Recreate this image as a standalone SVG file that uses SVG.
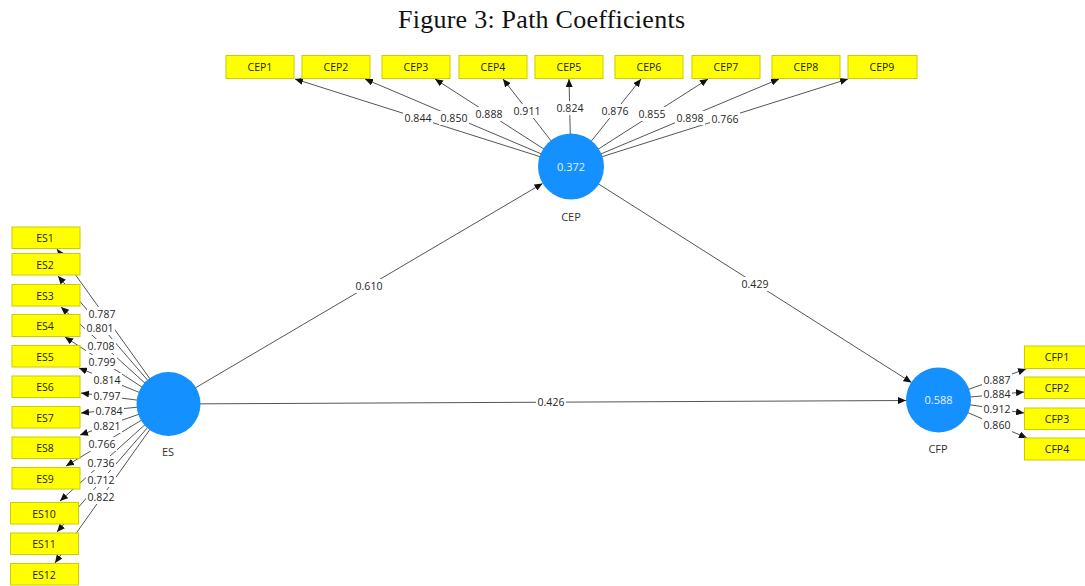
<svg xmlns="http://www.w3.org/2000/svg" width="1085" height="586" viewBox="0 0 1085 586">
<style>
.bg{fill:#fff}
.ln{stroke:#555;stroke-width:1;fill:none;marker-end:url(#ah)}
.lb{fill:#fff}
.lt{font-family:"Open Sans","Noto Sans",sans-serif;font-size:10.5px;fill:#262626;text-anchor:middle;dominant-baseline:central}
.box{fill:#ffff00;stroke:#cccc00;stroke-width:1}
.bt{font-family:"Open Sans","Noto Sans",sans-serif;font-size:10.5px;fill:#222;text-anchor:middle;dominant-baseline:central}
.cir{fill:#1490ff}
.ct{font-family:"Open Sans","Noto Sans",sans-serif;font-size:11px;fill:#e6f0ff;text-anchor:middle;dominant-baseline:central}
.cn{font-family:"Open Sans","Noto Sans",sans-serif;font-size:11px;fill:#333;text-anchor:middle;dominant-baseline:central}
</style>
<defs>
<marker id="ah" markerUnits="userSpaceOnUse" markerWidth="9" markerHeight="7" refX="8" refY="3.5" orient="auto">
<path d="M0,0 L8,3.5 L0,7 z" fill="#111"/>
</marker>
</defs>
<rect class="bg" x="0" y="0" width="1085" height="586"/>
<text x="398" y="28" font-family="'Liberation Serif', serif" font-size="26" textLength="287" lengthAdjust="spacing" fill="#111">Figure 3: Path Coefficients</text>

<g id="connectors">
<!-- CEP indicators -->
<line class="ln" x1="571" y1="166.5" x2="295" y2="79"/>
<line class="ln" x1="571" y1="166.5" x2="365" y2="79"/>
<line class="ln" x1="571" y1="166.5" x2="435" y2="79"/>
<line class="ln" x1="571" y1="166.5" x2="503" y2="79"/>
<line class="ln" x1="571" y1="166.5" x2="569" y2="79"/>
<line class="ln" x1="571" y1="166.5" x2="641" y2="79"/>
<line class="ln" x1="571" y1="166.5" x2="708" y2="79"/>
<line class="ln" x1="571" y1="166.5" x2="779" y2="79"/>
<line class="ln" x1="571" y1="166.5" x2="848" y2="79"/>
<!-- ES indicators -->
<line class="ln" x1="168" y1="404" x2="57" y2="249"/>
<line class="ln" x1="168" y1="404" x2="58" y2="276"/>
<line class="ln" x1="168" y1="404" x2="61" y2="307"/>
<line class="ln" x1="168" y1="404" x2="65" y2="337"/>
<line class="ln" x1="168" y1="404" x2="79" y2="368"/>
<line class="ln" x1="168" y1="404" x2="81" y2="393"/>
<line class="ln" x1="168" y1="404" x2="81" y2="413"/>
<line class="ln" x1="168" y1="404" x2="80" y2="435"/>
<line class="ln" x1="168" y1="404" x2="66" y2="466"/>
<line class="ln" x1="168" y1="404" x2="60" y2="501"/>
<line class="ln" x1="168" y1="404" x2="57" y2="532"/>
<line class="ln" x1="168" y1="404" x2="55" y2="563"/>
<!-- CFP indicators -->
<line class="ln" x1="938.5" y1="400" x2="1026" y2="369"/>
<line class="ln" x1="938.5" y1="400" x2="1024" y2="392"/>
<line class="ln" x1="938.5" y1="400" x2="1024" y2="413"/>
<line class="ln" x1="938.5" y1="400" x2="1027" y2="438"/>
<!-- structural paths -->
<line class="ln" x1="168" y1="404" x2="542.5" y2="183.5"/>
<line class="ln" x1="571" y1="166.5" x2="911.5" y2="382.5"/>
<line class="ln" x1="168" y1="404" x2="906" y2="400.5"/>

<!-- labels -->
<g>
<rect class="lb" x="403" y="111" width="30" height="14"/><text class="lt" x="418" y="118">0.844</text>
<rect class="lb" x="439" y="111" width="30" height="14"/><text class="lt" x="454" y="118">0.850</text>
<rect class="lb" x="474" y="107" width="30" height="14"/><text class="lt" x="489" y="114">0.888</text>
<rect class="lb" x="512" y="104" width="30" height="14"/><text class="lt" x="527" y="111">0.911</text>
<rect class="lb" x="555" y="101" width="30" height="14"/><text class="lt" x="570" y="108">0.824</text>
<rect class="lb" x="600" y="104" width="30" height="14"/><text class="lt" x="615" y="111">0.876</text>
<rect class="lb" x="637" y="107" width="30" height="14"/><text class="lt" x="652" y="114">0.855</text>
<rect class="lb" x="675" y="111" width="30" height="14"/><text class="lt" x="690" y="118">0.898</text>
<rect class="lb" x="710" y="112" width="30" height="14"/><text class="lt" x="725" y="119">0.766</text>

<rect class="lb" x="87" y="307" width="30" height="14"/><text class="lt" x="102" y="314">0.787</text>
<rect class="lb" x="85" y="321" width="30" height="14"/><text class="lt" x="100" y="328">0.801</text>
<rect class="lb" x="86" y="339" width="30" height="14"/><text class="lt" x="101" y="346">0.708</text>
<rect class="lb" x="87" y="355" width="30" height="14"/><text class="lt" x="102" y="362">0.799</text>
<rect class="lb" x="92" y="373" width="30" height="14"/><text class="lt" x="107" y="380">0.814</text>
<rect class="lb" x="92" y="389" width="30" height="14"/><text class="lt" x="107" y="396">0.797</text>
<rect class="lb" x="94" y="404" width="30" height="14"/><text class="lt" x="109" y="411">0.784</text>
<rect class="lb" x="92" y="419" width="30" height="14"/><text class="lt" x="107" y="426">0.821</text>
<rect class="lb" x="87" y="437" width="30" height="14"/><text class="lt" x="102" y="444">0.766</text>
<rect class="lb" x="86" y="456" width="30" height="14"/><text class="lt" x="101" y="463">0.736</text>
<rect class="lb" x="86" y="473" width="30" height="14"/><text class="lt" x="101" y="480">0.712</text>
<rect class="lb" x="86" y="490" width="30" height="14"/><text class="lt" x="101" y="497">0.822</text>

<rect class="lb" x="982" y="373" width="30" height="14"/><text class="lt" x="997" y="380">0.887</text>
<rect class="lb" x="982" y="387" width="30" height="14"/><text class="lt" x="997" y="394">0.884</text>
<rect class="lb" x="982" y="402" width="30" height="14"/><text class="lt" x="997" y="409">0.912</text>
<rect class="lb" x="982" y="418" width="30" height="14"/><text class="lt" x="997" y="425">0.860</text>

<rect class="lb" x="354" y="279" width="30" height="14"/><text class="lt" x="369" y="286">0.610</text>
<rect class="lb" x="740" y="277" width="30" height="14"/><text class="lt" x="755" y="284">0.429</text>
<rect class="lb" x="536" y="395" width="30" height="14"/><text class="lt" x="551" y="402">0.426</text>
</g>
</g>

<g id="CEP"><circle class="cir" cx="571" cy="166.5" r="33"/><text class="ct" x="571" y="166">0.372</text><text class="cn" x="571" y="216">CEP</text></g>
<g id="ES"><circle class="cir" cx="168.5" cy="404" r="32"/><text class="cn" x="168" y="451">ES</text></g>
<g id="CFP"><circle class="cir" cx="938.5" cy="400" r="32.5"/><text class="ct" x="938.5" y="399">0.588</text><text class="cn" x="938" y="448">CFP</text></g>

<g id="CEP1"><rect class="box" x="226" y="55.5" width="68" height="23"/><text class="bt" x="260" y="67">CEP1</text></g>
<g id="CEP2"><rect class="box" x="302" y="55.5" width="68" height="23"/><text class="bt" x="336" y="67">CEP2</text></g>
<g id="CEP3"><rect class="box" x="382" y="55.5" width="68" height="23"/><text class="bt" x="416" y="67">CEP3</text></g>
<g id="CEP4"><rect class="box" x="459" y="55.5" width="68" height="23"/><text class="bt" x="493" y="67">CEP4</text></g>
<g id="CEP5"><rect class="box" x="535" y="55.5" width="68" height="23"/><text class="bt" x="569" y="67">CEP5</text></g>
<g id="CEP6"><rect class="box" x="615" y="55.5" width="68" height="23"/><text class="bt" x="649" y="67">CEP6</text></g>
<g id="CEP7"><rect class="box" x="692" y="55.5" width="68" height="23"/><text class="bt" x="726" y="67">CEP7</text></g>
<g id="CEP8"><rect class="box" x="772" y="55.5" width="68" height="23"/><text class="bt" x="806" y="67">CEP8</text></g>
<g id="CEP9"><rect class="box" x="848" y="55.5" width="69" height="23"/><text class="bt" x="882" y="67">CEP9</text></g>

<g id="ES1"><rect class="box" x="12" y="227" width="68" height="21.5"/><text class="bt" x="45" y="238">ES1</text></g>
<g id="ES2"><rect class="box" x="12" y="253.5" width="68" height="21.5"/><text class="bt" x="45" y="264.5">ES2</text></g>
<g id="ES3"><rect class="box" x="12" y="284.5" width="68" height="21.5"/><text class="bt" x="45" y="295.5">ES3</text></g>
<g id="ES4"><rect class="box" x="12" y="314.5" width="68" height="22"/><text class="bt" x="45" y="325.5">ES4</text></g>
<g id="ES5"><rect class="box" x="12" y="345.5" width="68" height="21.5"/><text class="bt" x="45" y="356.5">ES5</text></g>
<g id="ES6"><rect class="box" x="12" y="376" width="68" height="21.5"/><text class="bt" x="45" y="387">ES6</text></g>
<g id="ES7"><rect class="box" x="12" y="406.5" width="68" height="21.5"/><text class="bt" x="45" y="417.5">ES7</text></g>
<g id="ES8"><rect class="box" x="12" y="437" width="68" height="21.5"/><text class="bt" x="45" y="448">ES8</text></g>
<g id="ES9"><rect class="box" x="12" y="467.5" width="68" height="21.5"/><text class="bt" x="45" y="478.5">ES9</text></g>
<g id="ES10"><rect class="box" x="10.5" y="502.5" width="68" height="21.5"/><text class="bt" x="44" y="513.5">ES10</text></g>
<g id="ES11"><rect class="box" x="10.5" y="533" width="68" height="21.5"/><text class="bt" x="44" y="544">ES11</text></g>
<g id="ES12"><rect class="box" x="10.5" y="563.5" width="68" height="21.5"/><text class="bt" x="44" y="574.5">ES12</text></g>

<g id="CFP1"><rect class="box" x="1024.5" y="346" width="70" height="22.5"/><text class="bt" x="1057" y="357">CFP1</text></g>
<g id="CFP2"><rect class="box" x="1024.5" y="377" width="70" height="21.5"/><text class="bt" x="1057" y="388">CFP2</text></g>
<g id="CFP3"><rect class="box" x="1024.5" y="408" width="70" height="21.5"/><text class="bt" x="1057" y="419">CFP3</text></g>
<g id="CFP4"><rect class="box" x="1024.5" y="438" width="70" height="22"/><text class="bt" x="1057" y="449">CFP4</text></g>
</svg>
